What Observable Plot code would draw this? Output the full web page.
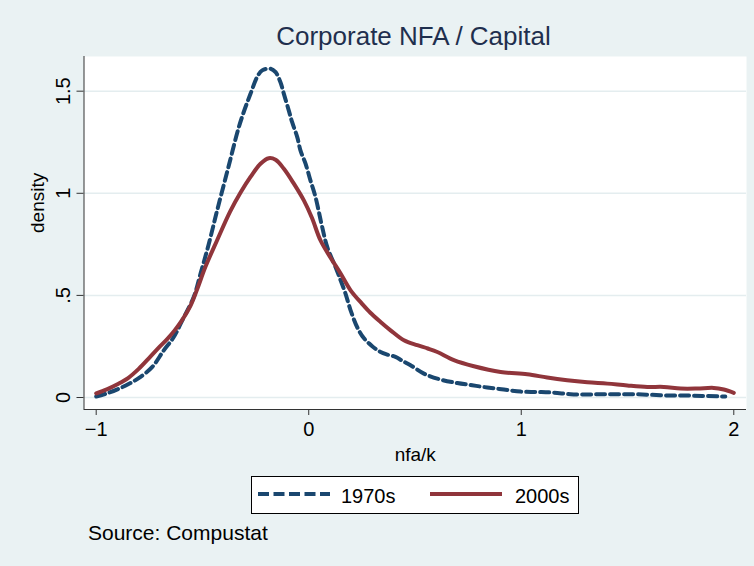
<!DOCTYPE html>
<html>
<head>
<meta charset="utf-8">
<script src="https://cdn.jsdelivr.net/npm/d3@7"></script>
<script src="https://cdn.jsdelivr.net/npm/@observablehq/plot@0.6"></script>
<style>
  html, body { margin: 0; padding: 0; background: #EAF2F3; }
  #wrap { position: relative; width: 754px; height: 566px; background: #EAF2F3; overflow: hidden;
          font-family: "Liberation Sans", Arial, Helvetica, sans-serif; color: #000; }
  #title { position: absolute; left: 113.5px; width: 600px; top: 22.5px; text-align: center;
           font-size: 26px; line-height: 1; color: #1F2F4E; white-space: nowrap; }
  #chart { position: absolute; left: 0; top: 50px; }
  #legend { position: absolute; left: 251px; top: 476px; width: 328px; height: 38px; box-sizing: border-box;
            border: 1px solid #000; background: #fff; }
  .sw { position: absolute; top: 490px; }
  .lab { position: absolute; top: 486px; font-size: 20px; line-height: 1; white-space: nowrap; }
  #caption { position: absolute; left: 88px; top: 522px; font-size: 21px; line-height: 1; white-space: nowrap; }
</style>
</head>
<body>
<div id="wrap">
  <div id="title">Corporate NFA / Capital</div>
  <div id="chart"></div>
  <div id="legend"></div>
  <svg class="sw" style="left:258px" width="72" height="8"><line x1="0" y1="4" x2="72" y2="4" stroke="#1A476F" stroke-width="4" stroke-dasharray="11,4.5"/></svg>
  <div class="lab" style="left:341px">1970s</div>
  <svg class="sw" style="left:430px" width="72" height="8"><line x1="0" y1="4" x2="72" y2="4" stroke="#90353B" stroke-width="4"/></svg>
  <div class="lab" style="left:515px">2000s</div>
  <div id="caption">Source: Compustat</div>
</div>
<script>
// ---- data ----
const seriesNames = ["1970s", "2000s"];

const x1970s = [-1,-0.95,-0.9,-0.85,-0.8,-0.736,-0.682,-0.635,-0.595,-0.541,-0.509,-0.47,-0.43,-0.38,-0.33,-0.30,-0.274,-0.243,-0.219,-0.18,-0.156,-0.133,-0.117,-0.094,-0.078,-0.054,-0.039,-0.015,0.008,0.032,0.06,0.087,0.126,0.15,0.173,0.197,0.23,0.26,0.30,0.338,0.37,0.408,0.44,0.479,0.542,0.62,0.699,0.769,0.84,0.918,0.997,1.075,1.153,1.232,1.311,1.381,1.459,1.538,1.616,1.695,1.773,1.852,1.93,1.96];
const y1970s = [0.005,0.02,0.04,0.065,0.095,0.15,0.231,0.296,0.378,0.492,0.607,0.753,0.92,1.12,1.32,1.415,1.487,1.569,1.602,1.61,1.593,1.544,1.487,1.406,1.348,1.275,1.21,1.145,1.063,0.981,0.85,0.737,0.639,0.574,0.509,0.427,0.34,0.29,0.25,0.223,0.21,0.199,0.18,0.158,0.117,0.088,0.071,0.06,0.049,0.039,0.029,0.027,0.024,0.016,0.015,0.016,0.016,0.016,0.013,0.01,0.01,0.008,0.006,0.005];

const x2000s = [-1,-0.95,-0.9,-0.85,-0.8,-0.745,-0.7,-0.667,-0.63,-0.595,-0.556,-0.525,-0.486,-0.431,-0.37,-0.32,-0.274,-0.227,-0.188,-0.156,-0.117,-0.07,-0.023,0.015,0.055,0.102,0.15,0.197,0.25,0.29,0.338,0.385,0.448,0.511,0.56,0.605,0.683,0.777,0.903,1.028,1.122,1.216,1.311,1.405,1.499,1.593,1.671,1.75,1.828,1.906,1.953,2.0];
const y2000s = [0.02,0.04,0.065,0.095,0.14,0.2,0.25,0.285,0.33,0.38,0.45,0.53,0.64,0.77,0.91,1.005,1.08,1.145,1.172,1.164,1.12,1.047,0.965,0.88,0.77,0.686,0.607,0.525,0.46,0.415,0.37,0.329,0.28,0.256,0.24,0.223,0.183,0.153,0.125,0.114,0.098,0.085,0.075,0.068,0.059,0.052,0.052,0.044,0.044,0.047,0.039,0.023];

const xTicks = [-1, 0, 1, 2];
const yTicks = [0, 0.5, 1, 1.5];
const yTickLabels = ["0", ".5", "1", "1.5"];
const xTitle = "nfa/k";
const yTitle = "density";

// ---- build tables ----
const d70 = x1970s.map((x, i) => ({x, y: y1970s[i], s: seriesNames[0]}));
const d00 = x2000s.map((x, i) => ({x, y: y2000s[i], s: seriesNames[1]}));
const yTickData = yTicks.map((v, i) => ({v, label: yTickLabels[i]}));

const xDomain = [-1.0574, 2.0598];
const yDomain = [-0.0587, 1.6698];
const navy = "#1A476F", maroon = "#90353B";

const chart = Plot.plot({
  width: 754,
  height: 420,
  marginLeft: 83.5,
  marginRight: 8,
  marginTop: 6,
  marginBottom: 61,
  x: {domain: xDomain},
  y: {domain: yDomain},
  style: {background: "transparent", fontFamily: "'Liberation Sans', Arial, sans-serif", fontSize: "20px", color: "#000", overflow: "visible"},
  marks: [
    Plot.frame({fill: "white", stroke: "none"}),
    Plot.ruleY(yTicks, {stroke: "#E4EDEF", strokeWidth: 1.5}),
    Plot.line(d70, {x: "x", y: "y", stroke: navy, strokeWidth: 4, strokeDasharray: "9,5", curve: "catmull-rom"}),
    Plot.line(d00, {x: "x", y: "y", stroke: maroon, strokeWidth: 4, curve: "catmull-rom"}),
    Plot.ruleX([xDomain[0]], {stroke: "#333"}),
    Plot.ruleY([yDomain[0]], {stroke: "#333"}),
    Plot.axisX({ticks: xTicks, tickSize: 6, tickPadding: 6, fontSize: 20, stroke: "#333",
                tickFormat: d => d < 0 ? "\u2212" + (-d) : String(d), label: null}),
    Plot.axisY({ticks: yTicks, tickSize: 7, stroke: "#333", tickFormat: () => "", label: null}),
    Plot.text(yTickData, {y: "v", text: "label", frameAnchor: "left", rotate: -90, dx: -14,
                          lineAnchor: "bottom", textAnchor: "middle", fontSize: 20, fill: "#000"}),
    Plot.text([yTitle], {frameAnchor: "left", dx: -40, rotate: -90, lineAnchor: "bottom", fontSize: 19, fill: "#000"}),
    Plot.text([xTitle], {frameAnchor: "bottom", dy: 51, lineAnchor: "bottom", fontSize: 19, fill: "#000"})
  ]
});
document.getElementById("chart").appendChild(chart);
</script>
</body>
</html>
